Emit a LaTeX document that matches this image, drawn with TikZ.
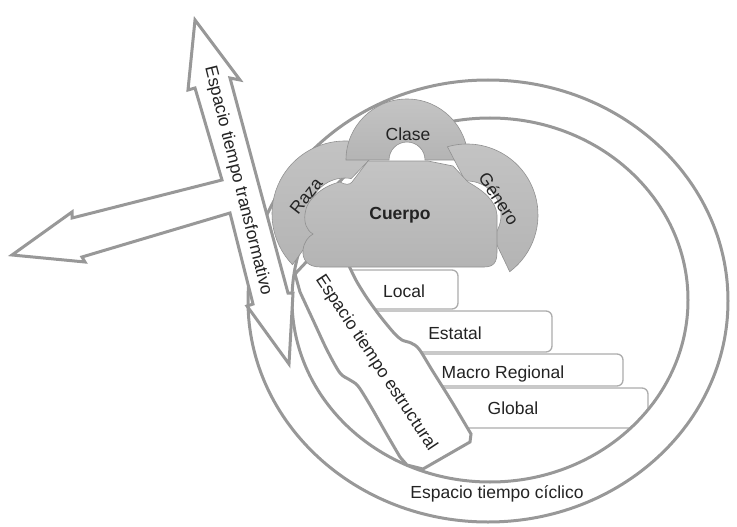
\documentclass[tikz,border=0pt]{standalone}
\usepackage{fontspec}
\setmainfont{Liberation Sans}
\usetikzlibrary{calc}

\definecolor{ringgray}{RGB}{152,152,152}
\definecolor{stairgray}{RGB}{172,172,172}
\definecolor{piecetop}{RGB}{196,196,196}
\definecolor{piecebottom}{RGB}{180,180,180}
\definecolor{pieceline}{RGB}{145,145,145}
\definecolor{textgray}{RGB}{35,35,35}

\begin{document}
\begin{tikzpicture}[x=1pt, y=-1pt,
  ring/.style={draw=ringgray, line width=3pt},
  band/.style={ring, fill=white},
  stair/.style={draw=stairgray, line width=1.3pt, fill=white, rounded corners=6pt},
  piece/.style={draw=pieceline, line width=0.6pt, top color=piecetop, bottom color=piecebottom},
  lbl/.style={text=textgray, font=\fontsize{17.5}{20}\selectfont, inner sep=0pt}]
  \useasboundingbox (0,0) rectangle (737,527);

  \begin{scope}
    \clip (490,300) ellipse [x radius=198, y radius=182];
    \clip (346,250) -- plot[smooth, tension=0.5] coordinates {(350,268) (357,282) (367,298) (380,316) (394,333) (402,340) (411,343) (419,349) (432,370) (452,402) (471,434)}
      -- (485,470) -- (737,470) -- (737,250) -- cycle;
    \draw[stair] (330,388) rectangle (648,428);
    \draw[stair] (330,354) rectangle (623,386);
    \draw[stair] (330,311) rectangle (552,352);
    \draw[stair] (330,270) rectangle (458,309);
  \end{scope}
  \node[lbl] (local) at (404,291) {Local};
  \node[lbl] (estatal) at (455,333) {Estatal};
  \node[lbl] (macro) at (503,374) {Macro Regional};
  \node[lbl] (global) at (513,408) {Global};

  \draw[ring] (488,301) ellipse [x radius=240, y radius=221];
  \draw[ring] (490,300) ellipse [x radius=198, y radius=182];
  \node[lbl] (ciclico) at (497,494) {Espacio tiempo cíclico};

  \draw[band] (310,258) -- (295,274) -- plot[smooth, tension=0.5] coordinates {(300,292) (313,320) (327,350) (340,373) (350,380) (358,386) (370,405) (386,433) (400,457)}
    -- (407,465) -- (423,469) -- (470,442)
    -- plot[smooth, tension=0.5] coordinates {(471,434) (452,402) (432,370) (419,349) (411,343) (402,340) (394,333) (380,316) (367,298) (357,282) (350,268)}
    -- (346,257) -- cycle;
  \node[lbl, rotate=-56.5] (estructural) at (376,363) {Espacio tiempo estructural};

  \draw[band] (195,20) -- (240,80) -- (230,78) -- (288,293) -- (293,293) -- (289,364) -- (247,306) -- (253,304)
    -- (230,213) -- (82,257) -- (85,262) -- (12,255) -- (72,212) -- (72,218) -- (222,180) -- (195,88) -- (188,90) -- cycle;
  \node[lbl, rotate=-76] (transformativo) at (238,181) {Espacio tiempo transformativo};

  \coordinate (razac) at (345,214);
  \coordinate (clasec) at (407,160);
  \coordinate (generoc) at (467,215);
  \draw[piece] ($(razac)+(-62:73)$) arc[start angle=-62, end angle=-224, radius=73]
    -- ($(razac)+(-213:36)$) arc[start angle=-213, end angle=-80, radius=36] -- cycle;
  \draw[piece] ($(clasec)+(180:61)$) arc[start angle=180, end angle=360, radius=61]
    -- ($(clasec)+(0:18)$) arc[start angle=360, end angle=180, radius=18] -- cycle;
  \draw[piece] ($(generoc)+(-106:71)$) arc[start angle=-106, end angle=53, radius=71]
    -- ($(generoc)+(40:34)$) arc[start angle=40, end angle=-93, radius=34] -- cycle;
  \draw[piece] (368,161) -- (428,161) -- (453,166) -- (468,182) .. controls (482,190) and (496,200) .. (497,215) -- (497,252)
    .. controls (497,262) and (494,267) .. (484,267) -- (320,267) .. controls (308,267) and (302,260) .. (303,250)
    .. controls (304,242) and (308,237) .. (313,234) .. controls (306,230) and (304,222) .. (305,214)
    .. controls (306,200) and (322,186) .. (340,182) .. controls (345,185) and (350,185) .. (352,182) -- cycle;

  \node[lbl] (clase) at (408,134) {Clase};
  \node[lbl, rotate=52] (raza) at (306,196) {Raza};
  \node[lbl, rotate=-57] (genero) at (499,199) {Género};
  \node[lbl, font=\fontsize{17.5}{20}\selectfont\bfseries] (cuerpo) at (400,215) {Cuerpo};
\end{tikzpicture}
\end{document}
